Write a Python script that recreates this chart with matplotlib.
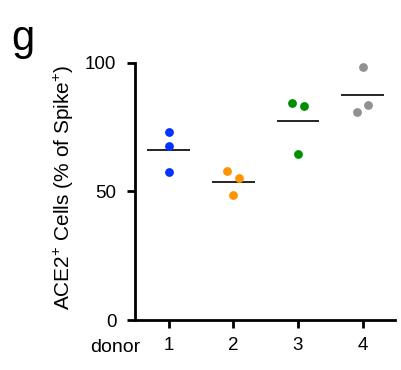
import matplotlib
matplotlib.use("Agg")
import matplotlib.pyplot as plt
import numpy as np

plt.rcParams['font.family'] = ['Liberation Sans', 'DejaVu Sans']
plt.rcParams['mathtext.fontset'] = 'custom'
plt.rcParams['mathtext.rm'] = 'Liberation Sans'
plt.rcParams['mathtext.it'] = 'Liberation Sans:italic'

# Percentage of ACE2+ cells among Spike+ cells, three replicates per donor
donors = ["1", "2", "3", "4"]
donor1 = [72.9, 67.6, 57.6]
donor2 = [57.9, 55.0, 48.6]
donor3 = [84.4, 83.1, 64.5]
donor4 = [98.2, 83.7, 81.0]
jitter = {
    "1": [0.0, 0.0, 0.0],
    "2": [-0.09, 0.09, 0.0],
    "3": [-0.09, 0.09, 0.0],
    "4": [0.0, 0.09, -0.09],
}
colors = ["#0433FF", "#FF9300", "#008F00", "#919191"]
yticks = [0, 50, 100]

fig = plt.figure(figsize=(4.01, 3.70), dpi=100)
ax = fig.add_axes([0.3367, 0.1351, 0.6483, 0.6954])

groups = [donor1, donor2, donor3, donor4]
for i, (name, vals, col) in enumerate(zip(donors, groups, colors)):
    xc = i + 1
    xs = [xc + dx for dx in jitter[name]]
    ax.scatter(xs, vals, s=40, color=col, zorder=3, linewidths=0)
    m = np.mean(vals)
    ax.plot([xc - 0.33, xc + 0.33], [m, m], color="black", lw=1.2, zorder=2,
            solid_capstyle="butt")

ax.set_xlim(0.48, 4.5)
ax.set_ylim(0, 100)
ax.set_xticks(range(1, 5))
ax.set_xticklabels(donors)
ax.set_yticks(yticks)
ax.set_yticklabels([str(t) for t in yticks])

for s in ["top", "right"]:
    ax.spines[s].set_visible(False)
for s in ["left", "bottom"]:
    ax.spines[s].set_linewidth(2.0)
ax.tick_params(axis="both", width=2.0, length=5.5, labelsize=13.5, direction="out")
ax.tick_params(axis="y", pad=8)
ax.tick_params(axis="x", pad=7)

fig.text(64 / 401, 1 - 187 / 370, "ACE2$^{+}$ Cells (% of Spike$^{+}$)",
         fontsize=15, rotation=90, ha="center", va="center")
fig.text(115 / 401, 1 - 347 / 370, "donor", fontsize=14, ha="center", va="center")
fig.text(11 / 401, 1 - 39 / 370, "g", fontsize=30, ha="left", va="center")

fig.savefig("out.png", dpi=100)
